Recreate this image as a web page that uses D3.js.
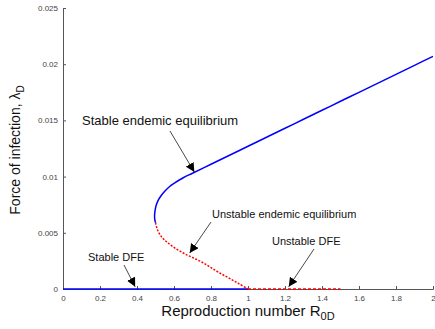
<!DOCTYPE html>
<html>
<head>
<meta charset="utf-8">
<script src="https://cdn.jsdelivr.net/npm/d3@7"></script>
<style>
  html, body { margin: 0; padding: 0; background: #fff; }
  svg { display: block; font-family: "Liberation Sans", Arial, sans-serif; }
</style>
</head>
<body>
<svg id="chart" width="435" height="329"></svg>
<script>
// Bifurcation diagram: force of infection vs reproduction number
const xTicks = [0, 0.2, 0.4, 0.6, 0.8, 1, 1.2, 1.4, 1.6, 1.8, 2];
const yTicks = [0, 0.005, 0.01, 0.015, 0.02, 0.025];

// Stable endemic branch (upper), starting at the fold
const stableEndemicR = [0.500, 0.496, 0.495, 0.497, 0.503, 0.515, 0.53, 0.55, 0.575, 0.60, 0.65, 0.70, 0.8, 0.9, 1.0, 1.1, 1.2, 1.3, 1.4, 1.5, 1.6, 1.7, 1.8, 1.9, 2.0];
const stableEndemicL = [0.0059, 0.0062, 0.0065, 0.0069, 0.0074, 0.0079, 0.0083, 0.0087, 0.0091, 0.0094, 0.0099, 0.0103, 0.0111, 0.0119, 0.0127, 0.0135, 0.0143, 0.0151, 0.0159, 0.0167, 0.0175, 0.0183, 0.0191, 0.0199, 0.0207];

// Unstable endemic branch (lower), from the fold down to R = 1
const unstableEndemicR = [0.500, 0.51, 0.53, 0.56, 0.60, 0.65, 0.70, 0.75, 0.80, 0.85, 0.90, 0.95, 1.0];
const unstableEndemicL = [0.0059, 0.0053, 0.0047, 0.0042, 0.0037, 0.0032, 0.0028, 0.0024, 0.0019, 0.0014, 0.00095, 0.00048, 0];

// Disease-free equilibrium
const stableDfeR = [0, 1];
const stableDfeL = [0, 0];
const unstableDfeR = [1, 1.5];
const unstableDfeL = [0, 0];

// Annotations: label text and arrow tip (in data units)
const annLabels = ["Stable endemic equilibrium", "Unstable endemic equilibrium", "Unstable DFE", "Stable DFE"];
const annTipR = [0.71, 0.685, 1.22, 0.39];
const annTipL = [0.0104, 0.0032, 0.0002, 0.0002];

const svg = d3.select("#chart");
const x = d3.scaleLinear().domain([0, 2]).range([63, 433]);
const y = d3.scaleLinear().domain([0, 0.025]).range([289, 8]);

const axisColor = "#555";

// Axes with inward ticks
const xAxis = svg.append("g").attr("transform", `translate(0,${y(0)})`)
  .call(d3.axisBottom(x).tickValues(xTicks).tickSize(-3).tickPadding(6).tickFormat(d3.format("")));
const yAxis = svg.append("g").attr("transform", `translate(${x(0)},0)`)
  .call(d3.axisLeft(y).tickValues(yTicks).tickSize(-3).tickPadding(5).tickFormat(d3.format("")));
[xAxis, yAxis].forEach(a => {
  a.selectAll("path.domain").attr("stroke", axisColor).attr("stroke-width", 1);
  a.selectAll(".tick line").attr("stroke", axisColor);
  a.selectAll("text").attr("fill", "#444").style("font-size", "8px");
});

const lineLin = d3.line().x(d => x(d[0])).y(d => y(d[1]));
const lineSmooth = d3.line().x(d => x(d[0])).y(d => y(d[1])).curve(d3.curveCatmullRom);
const zip = (a, b) => a.map((v, i) => [v, b[i]]);

svg.append("path").datum(zip(stableDfeR, stableDfeL))
  .attr("d", lineLin).attr("fill", "none").attr("stroke", "#0000ff").attr("stroke-width", 1.5);
svg.append("path").datum(zip(unstableDfeR, unstableDfeL))
  .attr("d", lineLin).attr("fill", "none").attr("stroke", "#ff0000").attr("stroke-width", 1.5)
  .attr("stroke-dasharray", "3,2");
svg.append("path").datum(zip(unstableEndemicR, unstableEndemicL))
  .attr("d", lineSmooth)
  .attr("fill", "none").attr("stroke", "#ff0000").attr("stroke-width", 1.5).attr("stroke-dasharray", "2,1.5");
svg.append("path").datum(zip(stableEndemicR, stableEndemicL))
  .attr("d", lineSmooth)
  .attr("fill", "none").attr("stroke", "#0000ff").attr("stroke-width", 1.5);

// Arrow marker
svg.append("defs").append("marker")
  .attr("id", "arrow").attr("viewBox", "0 0 10 10").attr("refX", 10).attr("refY", 5)
  .attr("markerWidth", 9).attr("markerHeight", 9).attr("markerUnits", "userSpaceOnUse")
  .attr("orient", "auto")
  .append("path").attr("d", "M0,0 L10,5 L0,10 z").attr("fill", "#000");

// Label placement (pixels) and arrow tails
const annPos = [
  { tx: 82, ty: 125, size: 13, ax: 170, ay: 131 },
  { tx: 212, ty: 218, size: 11, ax: 211, ay: 222 },
  { tx: 272, ty: 245, size: 11, ax: 314, ay: 249 },
  { tx: 88, ty: 261, size: 11, ax: 124, ay: 265 }
];
annLabels.forEach((t, i) => {
  const p = annPos[i];
  svg.append("text").attr("x", p.tx).attr("y", p.ty).attr("font-size", p.size).attr("fill", "#111").text(t);
  svg.append("line").attr("x1", p.ax).attr("y1", p.ay)
    .attr("x2", x(annTipR[i])).attr("y2", y(annTipL[i]))
    .attr("stroke", "#333").attr("stroke-width", 0.9).attr("marker-end", "url(#arrow)");
});

// Axis titles
const xt = svg.append("text").attr("x", 248).attr("y", 316).attr("text-anchor", "middle")
  .attr("font-size", 15).attr("fill", "#111");
xt.append("tspan").text("Reproduction number R");
xt.append("tspan").attr("dy", 4).attr("font-size", 11).text("0D");

const yt = svg.append("text").attr("transform", "translate(20,150) rotate(-90)")
  .attr("text-anchor", "middle").attr("font-size", 14).attr("fill", "#111");
yt.append("tspan").text("Force of infection, λ");
yt.append("tspan").attr("dy", 4).attr("font-size", 10).text("D");
</script>
</body>
</html>
